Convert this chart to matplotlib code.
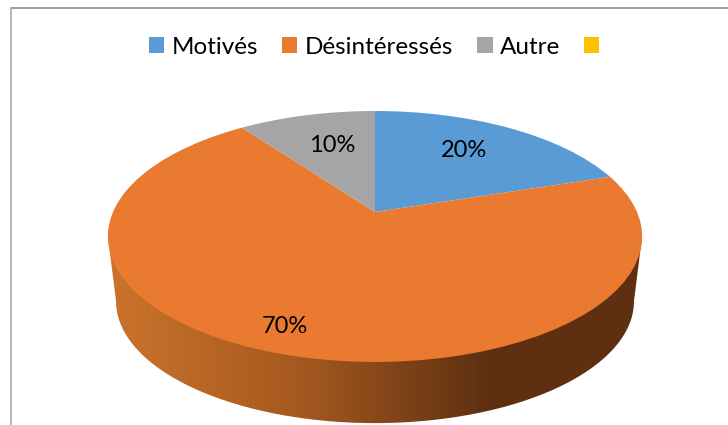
#!/usr/bin/env python

import numpy as np
import matplotlib
matplotlib.use('Agg')
import matplotlib.pyplot as plt
from matplotlib.colors import LinearSegmentedColormap
from matplotlib.patches import Polygon
from matplotlib.transforms import Transform

plt.rcParams['font.family'] = ['Lato', 'DejaVu Sans']

categories = ['Motivés', 'Désintéressés', 'Autre', '']
values = [20, 70, 10, 0]
colors = ['#5b9bd5', '#ea7a2f', '#a5a5a5', '#ffc000']
label_dist = [0.68, 0.87, 0.62]
label_shift = [(-6, 2), (-6, 5), (2, 3)]


class Tilt(Transform):
    # unit circle -> tilted disc in pixel coordinates, far side is smaller
    input_dims = 2
    output_dims = 2

    def __init__(self, cx, cy, sx, sy, k=0.195):
        super().__init__()
        self.cx, self.cy, self.sx, self.sy, self.k = cx, cy, sx, sy, k

    def transform_non_affine(self, xy):
        xy = np.asarray(xy, dtype=float)
        w = 1 + self.k * xy[:, 1]
        return np.column_stack([self.cx + self.sx * xy[:, 0] / w,
                                self.cy - self.sy * xy[:, 1] / w])


fig = plt.figure(figsize=(7.28, 4.25), dpi=100)
ax = fig.add_axes([0, 0, 1, 1])

wedges, _ = ax.pie(values, colors=colors, startangle=90, counterclock=False,
                   wedgeprops={'linewidth': 0, 'zorder': 3})
ax.set_aspect('auto')
ax.set_xlim(0, 728)
ax.set_ylim(425, 0)
ax.axis('off')

top = Tilt(375, 212, 262, 120.7)
for w in wedges:
    w.set_transform(top + ax.transData)

# side wall of the disc, only the orange slice shows at the front
# rim starts at its widest point, sin(t) = -k
bottom = Tilt(375, 277.5, 254, 117.2)
t0 = np.arcsin(bottom.k)
t = np.linspace(np.pi + t0, 2 * np.pi - t0, 200)
rim = bottom.transform_non_affine(np.column_stack([np.cos(t), np.sin(t)]))
wall = np.vstack([[108, 237], rim, [642, 237]])
clip = Polygon(wall, closed=True, transform=ax.transData)

wall_cmap = LinearSegmentedColormap.from_list(
    'wall', [(0, '#cb732c'), (0.36, '#a5591f'), (0.71, '#5e3011'), (1, '#5e3011')])
im = ax.imshow(np.linspace(0, 1, 256).reshape(1, -1), cmap=wall_cmap,
               extent=(108, 642, 425, 230), aspect='auto', zorder=2)
im.set_clip_path(clip)
ax.set_xlim(0, 728)
ax.set_ylim(425, 0)

# pie labels, midway through each slice
edges = np.cumsum([0] + values[:3]) / sum(values) * 2 * np.pi
for a, b, v, d, s in zip(edges[:-1], edges[1:], values[:3], label_dist, label_shift):
    mid = (a + b) / 2
    ax.annotate('%d%%' % v, (d * np.sin(mid), d * np.cos(mid)), xycoords=top + ax.transData,
                xytext=s, textcoords='offset pixels',
                ha='center', va='center', fontsize=17, color='black', zorder=5)

# chart frame, cut off by the crop on the right and bottom
ax.axhline(7.5, xmin=11 / 728, color='#8c8c8c', lw=1.2)
ax.axvline(11, ymax=1 - 7.5 / 425, color='#ababab', lw=1.2)

ax.legend(wedges, categories, ncols=4, loc='center', bbox_to_anchor=(378 / 728, 1 - 47 / 425),
          frameon=False, fontsize=17.5, handlelength=0.62, handleheight=0.62,
          handletextpad=0.3, columnspacing=1.0, borderpad=0)

plt.savefig('out.png', dpi=100)
